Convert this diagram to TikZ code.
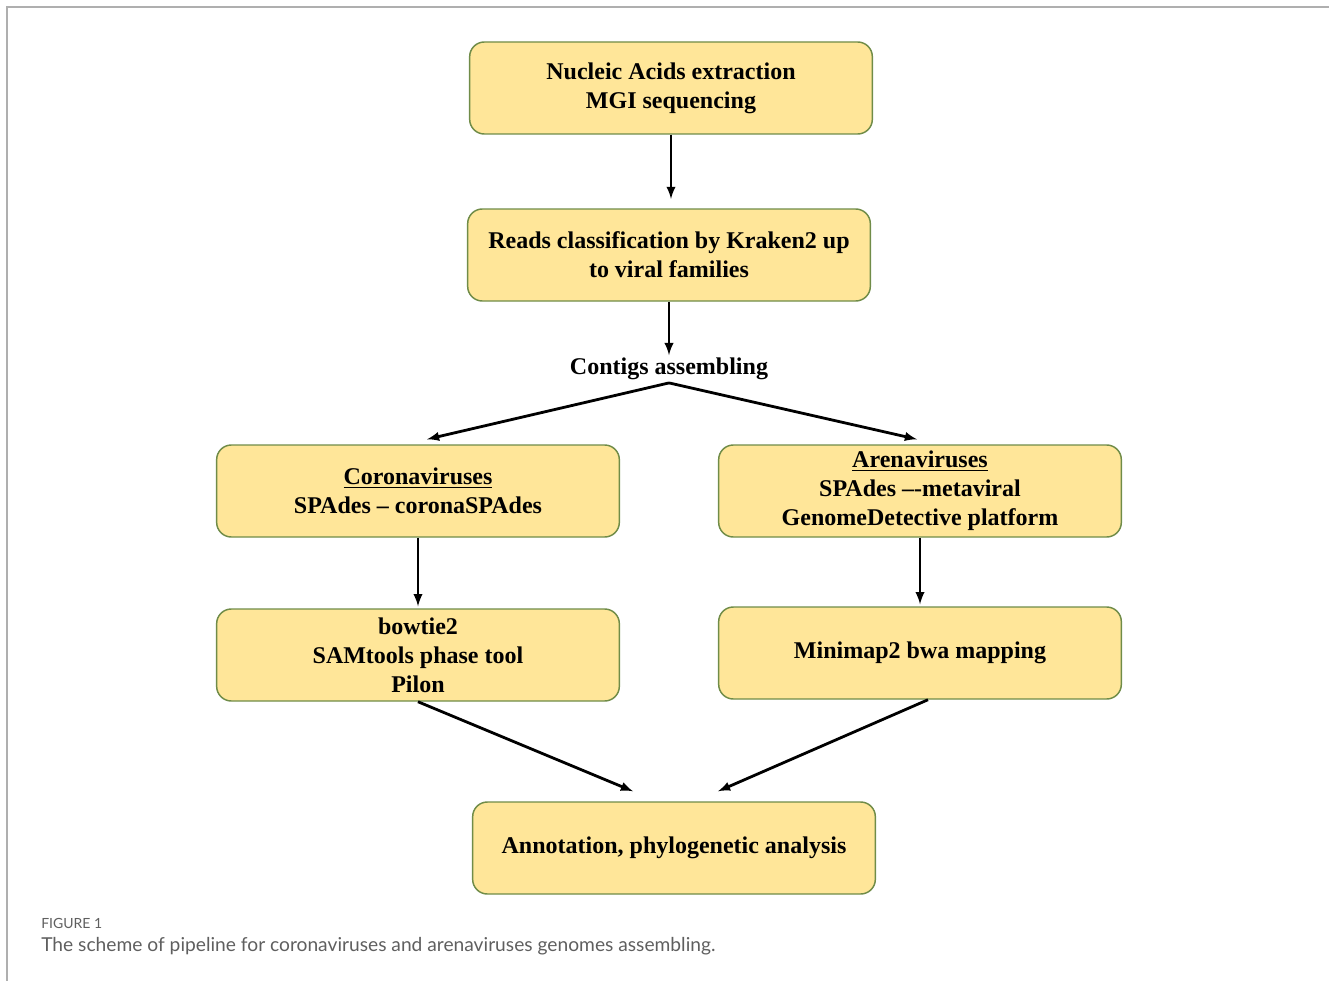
\documentclass[tikz,border=0pt]{standalone}
\usepackage{fontspec}
\setmainfont{Liberation Serif}
\newfontfamily\figcapfont{Lato}
\usetikzlibrary{arrows,calc}

\definecolor{boxfill}{RGB}{255,230,153}
\definecolor{boxline}{RGB}{112,140,72}
\definecolor{framegray}{RGB}{175,175,175}
\definecolor{captiongray}{RGB}{95,95,95}

\tikzset{
  stage/.style={draw=boxline,fill=boxfill,line width=1.1pt,rounded corners=11pt,
    minimum width=302pt,minimum height=69pt,align=center,
    font=\rmfamily\fontsize{18}{21.75}\selectfont\bfseries},
  flow/.style={-latex,line width=2.1pt},
}

\begin{document}
\begin{tikzpicture}[x=0.75pt,y=-0.75pt]
\useasboundingbox (0,0) rectangle (1329,981);
\draw[framegray,line width=1.5pt] (7,981) -- (7,7) -- (1329,7);

% pipeline stages
\node[stage] (nucleic) at (671,88) {Nucleic Acids extraction\\MGI sequencing};
\node[stage] (reads) at (669,255) {Reads classification by Kraken2 up\\to viral families};
\node[font=\rmfamily\fontsize{18}{21.75}\selectfont\bfseries,inner sep=2pt] (contigs) at (669,369) {Contigs assembling};
\node[stage] (corona) at (418,491) {\underline{Coronaviruses}\\SPAdes – coronaSPAdes};
\node[stage] (arena) at (920,491) {\underline{Arenaviruses}\\SPAdes –-metaviral\\GenomeDetective platform};
\node[stage] (bowtie) at (418,655) {bowtie2\\SAMtools phase tool\\Pilon};
\node[stage] (minimap) at (920,653) {Minimap2 bwa mapping};
\node[stage] (annot) at (674,848) {Annotation, phylogenetic analysis};

% connectors
\draw[flow,shorten >=7pt] (nucleic) -- (nucleic |- reads.north);
\draw[flow] (reads) -- (contigs);
\draw[flow] (contigs.south) -- ($(corona.north)+(9,-5)$);
\draw[flow] (contigs.south) -- ($(arena.north)+(-3,-5)$);
\draw[flow,shorten >=1.5pt] (corona) -- (bowtie);
\draw[flow,shorten >=1.5pt] (arena) -- (minimap);
\draw[flow] (bowtie.south) -- ($(annot.north)+(-41,-10)$);
\draw[flow] ($(minimap.south)+(8,0)$) -- ($(annot.north)+(44,-10)$);

% caption
\node[anchor=west,inner sep=0pt,text=captiongray,font=\figcapfont\fontsize{10.5}{12}\selectfont] (fig) at (41,923) {FIGURE 1};
\node[anchor=west,inner sep=0pt,text=captiongray,font=\figcapfont\fontsize{14.4}{16}\selectfont] (cap) at (41,946) {The scheme of pipeline for coronaviruses and arenaviruses genomes assembling.};
\end{tikzpicture}
\end{document}
